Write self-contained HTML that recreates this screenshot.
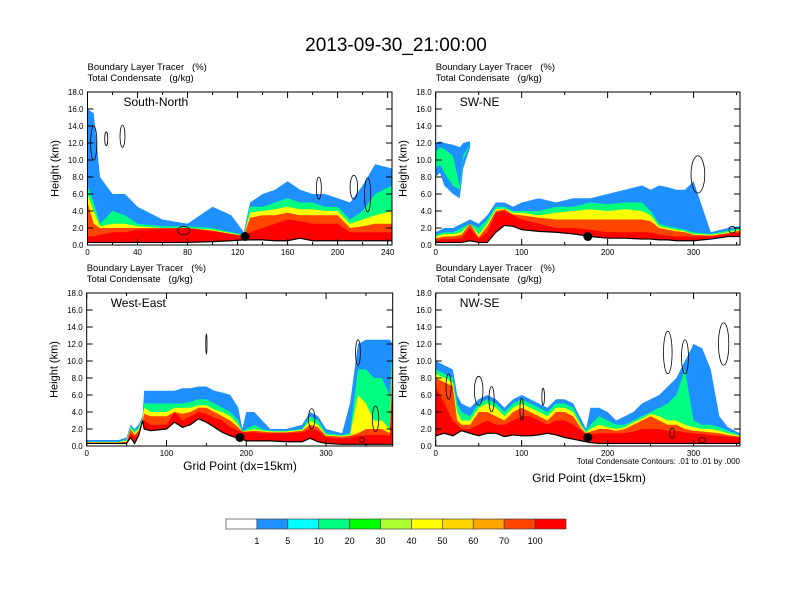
<!DOCTYPE html>
<html><head><meta charset="utf-8"><style>
body{margin:0;background:#fff;}
svg{display:block;font-family:"Liberation Sans",sans-serif;}
</style></head><body>
<svg id="chart" width="792" height="612" viewBox="0 0 792 612" xmlns="http://www.w3.org/2000/svg">
<text x="396" y="51" font-size="19" text-anchor="middle">2013-09-30_21:00:00</text>
<g id="panels"></g>
<g id="cbar"></g>
</svg>
<script>
const levelColors=["#1e90ff","#00ff80","#ffff00","#ff4500","#ff0000"];
const cbColors=["#ffffff","#1e90ff","#00ffff","#00ff80","#00ff00","#adff2f","#ffff00","#ffd700","#ffa500","#ff4500","#ff0000"];
const cbLabels=["1","5","10","20","30","40","50","60","70","100"];

const p1X=[0,5,10,20,30,40,60,80,100,115,125,130,140,150,160,170,180,190,200,210,220,230,243.5];
const p1Ground=[0.3,0.3,0.3,0.3,0.3,0.3,0.3,0.3,0.4,0.5,0.6,0.6,0.6,0.5,0.5,0.8,0.5,0.5,0.5,0.5,0.5,0.5,0.5];
const p1Blue=[16,15.5,8,6,6,4.5,3,2.5,4.5,3.5,1.5,5,6,6.5,7.5,6.5,6,6,5.5,5,7,9.5,9];
const p1Green=[7,5,2.5,4,3.5,2.5,2.2,2.2,2,1.5,1.2,4.5,4.5,5,5.5,5,5,4.5,4.5,3,4,6,7];
const p1Yellow=[6,4,2.2,2.5,2.5,2.2,2,2,1.8,1.4,1.1,3.8,4,4.2,4.5,4.2,4.2,4,4,2.5,3,3.5,4];
const p1Orange=[5,2.5,2,2,2,2,2,2,1.7,1.3,1.1,3.2,3.5,3.5,3.8,3.5,3.5,3.5,3.5,2,2.2,2.5,2.5];
const p1Red=[1,1,1.2,1.5,1.5,1.8,1.9,2,1.6,1.3,1,1.5,2,2.5,3,2.8,2.5,2.5,2.5,1.5,1.5,1.5,1.5];

const p2X=[0,10,20,30,40,50,60,70,80,90,100,120,140,160,180,200,220,240,250,260,270,280,290,300,320,340,354];
const p2Ground=[0.3,0.3,0.3,0.3,0.5,0.3,0.3,1.5,2.3,2.2,1.8,1.6,1.5,1.3,1,0.8,0.8,0.7,0.7,0.6,0.6,0.5,0.5,0.5,0.7,1,1];
const p2Blue=[1.5,2,2,2.5,3,2.5,3.5,5,5,4.5,5,5.5,5,5.5,5.5,6,6.5,7,6.5,7,6.8,6.5,6.5,7.5,1.5,2,2.2];
const p2Green=[1.2,1.5,1.5,2,2.5,2,3,4.5,4.5,4,4,4,4.5,4.5,5,4.8,5,5,4,2.5,2.2,2,1.8,1.5,1.3,1.7,2];
const p2Yellow=[1,1.3,1.3,1.5,2.5,1.2,2.5,4.2,4.3,3.8,3.8,3.5,3.8,4,4.2,4,4.2,4,3.5,2.2,2,1.8,1.6,1.3,1.2,1.5,1.8];
const p2Orange=[0.8,1,1,1.2,2.5,0.9,2.2,4,4.2,3.6,3.5,3.2,3,3,3,3,3,3,2.8,2,1.8,1.6,1.5,1.2,1.1,1.4,1.7];
const p2Red=[0.6,0.7,0.7,0.8,2,0.7,1.5,3.8,4,3.5,3,2.5,2,2,1.8,1.5,1.5,1.5,1.5,1.2,1.1,1,1,1,1,1.3,1.5];
const p2AloftX=[0,5,10,20,28,32,40];
const p2AloftBot=[8,8.5,7,6,5.5,9,11.5];
const p2AloftTop=[12,12.2,12,11.8,11.5,12,12.2];
const p2AloftInBot=[9,9.5,8.5,7,6.5,10,11.8];
const p2AloftInTop=[11,11.5,11.3,10.5,7,10.5,11.9];

const p3X=[0,20,40,50,55,60,65,70,72,80,100,110,120,130,140,150,160,170,180,190,195,200,210,220,230,250,270,280,290,300,320,330,340,350,360,370,380,383.5];
const p3Ground=[0.3,0.3,0.3,0.3,1,0.3,1.2,3,2,1.8,2,2.8,2.2,2.5,3.2,2.8,2.2,1.6,1.2,0.9,0.8,0.6,0.6,0.6,0.6,0.5,0.5,0.9,0.5,0.3,0.2,0.2,0.2,0.2,0.2,0.2,0.2,0.2];
const p3Blue=[0.7,0.7,0.7,1,2.5,2,2.5,3.5,6.5,6.5,6.5,6.5,6.8,6.8,7,7,6.5,6.3,6,4.5,2,4,4,3,2,2,2.5,4,3.5,2,1.5,5,12,12.5,12.5,12.5,12.5,12];
const p3Green=[0.5,0.5,0.5,0.8,2.3,1.8,2.2,3.3,5,5,5,5,5,5.2,5.5,5.5,5,4.5,4,3,1.8,2,2.5,2,1.8,1.8,2,3.5,3,1.5,1.3,1.5,9,9,8,8,6,12];
const p3Yellow=[0.45,0.45,0.45,0.6,2.1,1.5,2,3.2,4.5,4,4,4.5,4.5,4.5,4.8,4.8,4.3,4,3.5,2.5,1.7,1.8,2,1.8,1.7,1.7,1.9,3,2.5,1.3,1.2,1.3,6,5,3,3,2,11];
const p3Orange=[0.4,0.4,0.4,0.5,2,1.3,1.8,3,3.8,3.5,3.5,4,3.8,4,4.5,4.5,4,3.5,3,2.2,1.7,1.7,1.8,1.7,1.6,1.6,1.8,2.5,2.2,1.2,1.1,1.2,1.5,2,2,2,1.5,10];
const p3Red=[0.35,0.35,0.35,0.4,1.5,1,1.5,3,3,2.5,2.5,4,3,3.5,4,3.8,3.3,3,2.2,1.8,1.6,1.6,1.6,1.5,1.5,1.5,1.6,2,1.8,1,0.9,1,1.2,1.3,1.3,1.3,1.2,8];

const p4X=[0,10,20,25,30,40,50,60,70,80,90,100,110,120,130,140,150,160,170,175,180,190,200,210,220,230,240,250,260,270,280,290,300,310,320,330,340,354];
const p4Ground=[1.2,1.5,1.2,1.5,1.8,1.5,1.2,1.5,1.5,1.1,1.3,1.2,1.2,1.3,1.5,1.3,1,0.8,0.6,0.5,0.4,0.3,0.3,0.3,0.3,0.3,0.3,0.3,0.3,0.3,0.3,0.3,0.3,0.3,0.3,0.3,0.3,0.3];
const p4Blue=[10,9.5,9,6,5,4.5,5.5,6,5.5,4.5,5.5,6,5.5,5,4.5,5.5,5.5,5,3,2,4.5,4.5,4,3,3.5,4,5,5.5,6,7,8,10,12,11.5,9,3.5,2.2,1.5];
const p4Green=[9,8.5,8,5,4,3.5,5,5.5,5,4,5,5.5,5,4.5,4,5,5,4.5,2.5,1.8,2.5,3.5,3,2.5,2.5,3,3.5,4,4.5,5,6,9,3,2.5,2.5,2.2,1.8,1.3];
const p4Yellow=[8.5,8,7.5,4,3,3,4.5,5,4.5,3.5,4.5,5,4.5,4,3.5,4.5,4.5,4,2.2,1.6,2,2.5,2.2,2,2.2,2.8,3.2,3.8,3.5,3,3,2.5,2.2,2,2,1.8,1.5,1.2];
const p4Orange=[8,7.5,7,3,2.5,2.5,4,4,3.5,3,4,4.5,4,3.5,3,4,4,3.5,2,1.5,1.7,2,2,1.8,2,2.5,3,3.5,3,2.5,2.5,2,1.8,1.7,1.6,1.5,1.3,1.1];
const p4Red=[7,5,3,2.5,2,2,2.5,3,2.5,2.5,3,3.5,3.5,3,2.5,3,3,2.5,1.8,1.3,1.4,1.5,1.5,1.5,1.5,1.7,2,2,2,1.8,1.8,1.6,1.5,1.4,1.3,1.2,1.1,1];

const p1Ell=[[5,12,2.5,2],[15,12.5,1.2,0.8],[28,12.8,2,1.3],[77,1.7,5,0.5],[185,6.7,2,1.3],[213,6.8,3,1.4],[224,5.9,2.5,2]];
const p2Ell=[[305,8.3,8,2.2],[345,1.8,4,0.4]];
const p3Ell=[[150,12,0.8,1.2],[282,3.2,4,1.2],[340,11,3,1.5],[362,3.2,4,1.5],[345,0.7,3,0.3]];
const p4Ell=[[15,7,3,1.5],[50,6.5,5,1.7],[65,5.5,3,1.5],[100,4.3,2,1.3],[125,5.8,1.5,1],[270,11,5,2.5],[290,10.5,4,2],[335,12,6,2.5],[275,1.5,3,0.6],[310,0.7,4,0.3]];

const panels=[
 {name:"south-north",label:"South-North",x0:87.5,x1:392,y0:92,y1:245,xmax:243.5,ticks:[0,40,80,120,160,200,240],minor:20,xs:p1X,g:p1Ground,lv:[p1Blue,p1Green,p1Yellow,p1Orange,p1Red],dot:126,ell:p1Ell,sub:70},
 {name:"sw-ne",label:"SW-NE",x0:435.7,x1:740,y0:92,y1:245,xmax:354,ticks:[0,100,200,300],minor:50,xs:p2X,g:p2Ground,lv:[p2Blue,p2Green,p2Yellow,p2Orange,p2Red],dot:177,ell:p2Ell,sub:70,aloft:true},
 {name:"west-east",label:"West-East",x0:86.7,x1:392.7,y0:293,y1:446,xmax:383.5,ticks:[0,100,200,300],minor:50,xs:p3X,g:p3Ground,lv:[p3Blue,p3Green,p3Yellow,p3Orange,p3Red],dot:192,ell:p3Ell,sub:271},
 {name:"nw-se",label:"NW-SE",x0:435.7,x1:740,y0:293,y1:446,xmax:354,ticks:[0,100,200,300],minor:50,xs:p4X,g:p4Ground,lv:[p4Blue,p4Green,p4Yellow,p4Orange,p4Red],dot:177,ell:p4Ell,sub:271}
];
const NS="http://www.w3.org/2000/svg";
const root=document.getElementById('panels');
function mk(tag,attrs,parent){const e=document.createElementNS(NS,tag);for(const k in attrs)e.setAttribute(k,attrs[k]);parent.appendChild(e);return e;}
panels.forEach(p=>{
 const g=mk('g',{},root);
 
 
 const sx=v=>p.x0+(v/p.xmax)*(p.x1-p.x0);
 const sy=v=>p.y1-(v/18)*(p.y1-p.y0);
 const clipId='clip-'+p.name;
 const cp=mk('clipPath',{id:clipId},g);mk('rect',{x:p.x0,y:p.y0,width:p.x1-p.x0,height:p.y1-p.y0},cp);
 const field=mk('g',{'clip-path':'url(#'+clipId+')'},g);
 
 
 function band(xs,bot,top,color,nm){
  let d='M'+sx(xs[0])+','+sy(bot[0]);
  for(let i=0;i<xs.length;i++)d+='L'+sx(xs[i])+','+sy(top[i]);
  for(let i=xs.length-1;i>=0;i--)d+='L'+sx(xs[i])+','+sy(bot[i]);
  const e=mk('path',{d:d+'Z',fill:color},field);
  
  
 }
 p.lv.forEach((arr,i)=>band(p.xs,p.g,arr,levelColors[i],'level-'+i));
 if(p.aloft){band(p2AloftX,p2AloftBot,p2AloftTop,levelColors[0],'aloft-cloud');band(p2AloftX,p2AloftInBot,p2AloftInTop,levelColors[1],'aloft-core');}
 let gd='';p.xs.forEach((x,i)=>gd+=(i?'L':'M')+sx(x)+','+sy(p.g[i]));
 const gl=mk('path',{d:gd,fill:'none',stroke:'#000','stroke-width':1.2},field);
 
 
 p.ell.forEach(e=>{
  const el=mk('ellipse',{cx:sx(e[0]),cy:sy(e[1]),rx:e[2]*(p.x1-p.x0)/p.xmax,ry:e[3]*(p.y1-p.y0)/18,fill:'none',stroke:'#000','stroke-width':0.8},field);
  
  
 });
 const dt=mk('circle',{cx:sx(p.dot),cy:sy(1),r:4.5,fill:'#000'},g);
 
 
 const fr=mk('rect',{x:p.x0,y:p.y0,width:p.x1-p.x0,height:p.y1-p.y0,fill:'none',stroke:'#000','stroke-width':1},g);
 
 
 for(let v=0;v<=18;v+=2){
  const y=sy(v);
  mk('line',{x1:p.x0,x2:p.x0+6,y1:y,y2:y,stroke:'#000'},g);
  mk('line',{x1:p.x1,x2:p.x1-6,y1:y,y2:y,stroke:'#000'},g);
  const t=mk('text',{x:p.x0-4,y:y+3,'font-size':8,'text-anchor':'end'},g);t.textContent=v.toFixed(1);
  
  
 }
 for(let v=0;v<=p.xmax;v+=p.minor){
  const x=sx(v);const major=p.ticks.includes(v);const L=major?6:3;
  mk('line',{x1:x,x2:x,y1:p.y1,y2:p.y1-L,stroke:'#000'},g);
  mk('line',{x1:x,x2:x,y1:p.y0,y2:p.y0+L,stroke:'#000'},g);
 }
 p.ticks.forEach(v=>{
  const t=mk('text',{x:sx(v),y:p.y1+10,'font-size':8,'text-anchor':'middle'},g);t.textContent=v;
  
  
 });
 const lb=mk('text',{x:p.x0+(p.name==='south-north'?36:24),y:p.y0+14,'font-size':12},g);lb.textContent=p.label;
 
 
 const yl=mk('text',{x:0,y:0,'font-size':11,'text-anchor':'middle',transform:'translate('+(p.x0-29)+','+((p.y0+p.y1)/2)+') rotate(-90)'},g);yl.textContent='Height (km)';
 
 
 const s1=mk('text',{x:p.x0,y:p.sub,'font-size':9.5},g);s1.textContent='Boundary Layer Tracer\u00a0\u00a0\u00a0(%)';
 
 
 const s2=mk('text',{x:p.x0,y:p.sub+11,'font-size':9.5},g);s2.textContent='Total Condensate\u00a0\u00a0\u00a0(g/kg)';
 
 
});
const svg=document.getElementById('chart');
const xt1=mk('text',{x:240,y:470,'font-size':12,'text-anchor':'middle'},svg);xt1.textContent='Grid Point (dx=15km)';


const xt2=mk('text',{x:589,y:482,'font-size':12,'text-anchor':'middle'},svg);xt2.textContent='Grid Point (dx=15km)';


const cn=mk('text',{x:740,y:464,'font-size':8,'text-anchor':'end'},svg);cn.textContent='Total Condensate Contours: .01 to .01 by .000';


const cb=document.getElementById('cbar');
const cbx0=226,cbx1=566,cby=519,cbh=10,bw=(cbx1-cbx0)/cbColors.length;
cbColors.forEach((c,i)=>{
 const r=mk('rect',{x:cbx0+i*bw,y:cby,width:bw,height:cbh,fill:c,stroke:'#444','stroke-width':0.7},cb);
 
 
});
cbLabels.forEach((l,i)=>{
 const t=mk('text',{x:cbx0+(i+1)*bw,y:544,'font-size':9,'text-anchor':'middle'},cb);t.textContent=l;
 
 
});
</script>
</body></html>
